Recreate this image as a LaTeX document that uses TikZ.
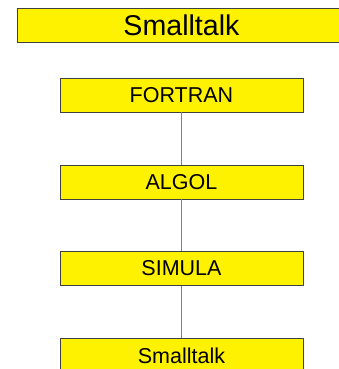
\documentclass[tikz,border=0pt]{standalone}
\usepackage{fontspec}
\setmainfont{Liberation Sans}
\usetikzlibrary{positioning}

\begin{document}
\begin{tikzpicture}[x=1pt,y=1pt,
                    every node/.style={rectangle,draw=black!75,fill=yellow,line width=0.8pt,
                                       inner sep=0pt,minimum height=34pt},
                    langbox/.style={minimum width=243pt,font=\fontsize{21.5}{24}\selectfont},
                    titlebox/.style={minimum width=329pt,font=\fontsize{28.6}{32}\selectfont},
                    link/.style={draw=black!50,line width=1pt}]
            \useasboundingbox (0,0) rectangle (339,-369);
            \clip (0,0) rectangle (339,-369);
            %Nodes
                \node[titlebox] (title) at (181.5,-25.6) {Smalltalk};
                \node[langbox] (fortran) at (181.5,-95) {FORTRAN};
                \node[langbox] (algol) at (181.5,-182) {ALGOL};
                \node[langbox] (simula) at (181.5,-268.5) {SIMULA};
                \node[langbox] (smalltalk) at (181.5,-355.5) {Smalltalk};

            %Lines
                \draw[link] (fortran) -- (algol);
                \draw[link] (algol) -- (simula);
                \draw[link] (simula) -- (smalltalk);
            \end{tikzpicture}
\end{document}
